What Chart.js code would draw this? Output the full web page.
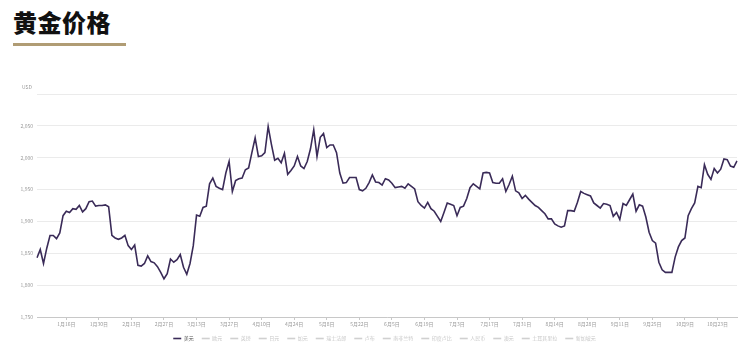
<!DOCTYPE html>
<html>
<head>
<meta charset="utf-8">
<script src="https://cdn.jsdelivr.net/npm/chart.js@4"></script>
<style>
  html, body { margin: 0; padding: 0; background: #fff; }
  body { width: 750px; height: 351px; position: relative; overflow: hidden; font-family: "Noto Sans CJK SC", sans-serif; }
  #title { position: absolute; left: 13px; top: 4px; font-size: 24px; font-weight: 900; color: #111; letter-spacing: 0.5px; }
  #rule { position: absolute; left: 13px; top: 43px; width: 113px; height: 3px; background: #b09c74; }
  #wrap { position: absolute; left: 0; top: 60px; width: 750px; height: 291px; }
</style>
</head>
<body>
<div id="title">黄金价格</div>
<div id="rule"></div>
<div id="wrap"><canvas id="goldChart"></canvas></div>
<script>
// first trading day shown, weekdays only
const startDate = '2023-01-03';

// gold price in USD, one value per weekday
const usdPrices = [
  1843, 1856, 1834, 1858, 1878, 1878, 1873, 1882, 1909, 1916,
  1914, 1920, 1919, 1925, 1915, 1920, 1931, 1932, 1924, 1925,
  1925, 1926, 1923, 1878, 1874, 1872, 1874, 1878, 1862, 1856,
  1863, 1831, 1830, 1834, 1846, 1837, 1835, 1829, 1820, 1810,
  1818, 1841, 1836, 1840, 1848, 1828, 1817, 1834, 1862, 1910,
  1908, 1922, 1924, 1959, 1968, 1955, 1952, 1950, 1976, 1994,
  1947, 1964, 1967, 1968, 1981, 1984, 2008, 2031, 2002, 2003,
  2008, 2049, 2021, 1996, 1999, 1992, 2007, 1974, 1980, 1987,
  2002, 1987, 1983, 1994, 2014, 2044, 2002, 2032, 2038, 2016,
  2020, 2020, 2008, 1976, 1960, 1961, 1969, 1969, 1969, 1950,
  1948, 1952, 1961, 1973, 1962, 1961, 1957, 1967, 1965, 1960,
  1953, 1954, 1955, 1952, 1959, 1955, 1951, 1931, 1925, 1921,
  1930, 1920, 1916, 1908, 1900, 1914, 1929, 1927, 1925, 1909,
  1922, 1924, 1936, 1953, 1959, 1955, 1951, 1976, 1977, 1976,
  1961, 1960, 1960, 1967, 1947, 1958, 1971, 1948, 1945, 1936,
  1941, 1935, 1930, 1925, 1922, 1917, 1912, 1904, 1904, 1896,
  1893, 1891, 1893, 1917, 1917, 1916, 1930, 1947, 1944, 1942,
  1940, 1929, 1925, 1921, 1928, 1927, 1925, 1908, 1914, 1903,
  1928, 1925, 1934, 1943, 1916, 1926, 1924, 1907, 1883, 1870,
  1866, 1836, 1824, 1820, 1820, 1820, 1844, 1860, 1870, 1874,
  1909, 1920, 1929, 1955, 1953, 1989, 1974, 1966, 1983, 1976,
  1982, 1998, 1997, 1987, 1985, 1995
];

// legend entries; only the first one carries data
const currencies = ['美元', '欧元', '英镑', '日元', '加元', '瑞士法郎', '卢布', '南非兰特', '印度卢比', '人民币', '澳元', '土耳其里拉', '新加坡元'];

const yMin = 1750, yMax = 2100, yStep = 50;

// build weekday labels like 1月16日
const labels = [];
let d = new Date(startDate + 'T00:00:00');
while (labels.length < usdPrices.length) {
  const wd = d.getDay();
  if (wd !== 0 && wd !== 6) labels.push((d.getMonth() + 1) + '月' + d.getDate() + '日');
  d.setDate(d.getDate() + 1);
}

const lineColor = '#3a2b58';
const mutedColor = '#d0d0d0';
const fontFamily = '"Noto Sans CJK SC", "Noto Sans", sans-serif';

const datasets = currencies.map((name, i) => ({
  label: name,
  data: i === 0 ? usdPrices : [],
  borderColor: i === 0 ? lineColor : mutedColor,
  backgroundColor: i === 0 ? lineColor : mutedColor,
  borderWidth: 1.6,
  pointRadius: 0,
  tension: 0,
  fill: false
}));

// unit name above the axis, and legend nudged to sit under the plot centre
const unitLabel = {
  id: 'unitLabel',
  afterLayout(chart) {
    chart.legend.left += 16;
    chart.legend.right += 16;
  },
  afterDraw(chart) {
    const y = chart.scales.y;
    const ctx = chart.ctx;
    ctx.save();
    ctx.font = '5px ' + fontFamily;
    ctx.fillStyle = '#999';
    ctx.textAlign = 'left';
    ctx.textBaseline = 'middle';
    ctx.fillText('USD', 22, y.getPixelForValue(yMax) - 7);
    ctx.restore();
  }
};

new Chart(document.getElementById('goldChart'), {
  type: 'line',
  data: { labels: labels, datasets: datasets },
  plugins: [unitLabel],
  options: {
    responsive: true,
    maintainAspectRatio: false,
    animation: false,
    layout: { padding: { left: 0, right: 13, top: 34, bottom: 0 } },
    plugins: {
      title: { display: false },
      tooltip: { enabled: false },
      legend: {
        position: 'bottom',
        labels: {
          usePointStyle: true,
          pointStyle: 'line',
          pointStyleWidth: 8,
          boxWidth: 8,
          padding: 8,
          font: { size: 5, family: fontFamily },
          generateLabels(chart) {
            return chart.data.datasets.map((ds, i) => ({
              text: ds.label,
              fillStyle: ds.borderColor,
              strokeStyle: ds.borderColor,
              lineWidth: 1.6,
              pointStyle: 'line',
              fontColor: i === 0 ? '#555' : '#c8c8c8',
              hidden: false,
              datasetIndex: i
            }));
          }
        }
      }
    },
    scales: {
      x: {
        type: 'category',
        offset: false,
        afterBuildTicks(scale) {
          scale.ticks = scale.ticks.filter(t => t.value % 10 === 9);
        },
        grid: { drawOnChartArea: false, drawTicks: true, tickLength: 3, color: '#c8c8c8' },
        border: { display: true, color: '#c8c8c8', width: 1 },
        ticks: {
          autoSkip: false,
          maxRotation: 0,
          minRotation: 0,
          padding: 1,
          color: '#999',
          font: { size: 5, family: fontFamily }
        }
      },
      y: {
        min: yMin,
        max: yMax,
        afterFit(scale) { scale.width = 37; },
        grid: { color: '#ebebeb', drawTicks: false },
        border: { display: false },
        ticks: {
          stepSize: yStep,
          padding: 4,
          color: '#999',
          font: { size: 5, family: fontFamily },
          callback: v => v === yMax ? '' : v.toLocaleString('en-US')
        }
      }
    }
  }
});
</script>
</body>
</html>
